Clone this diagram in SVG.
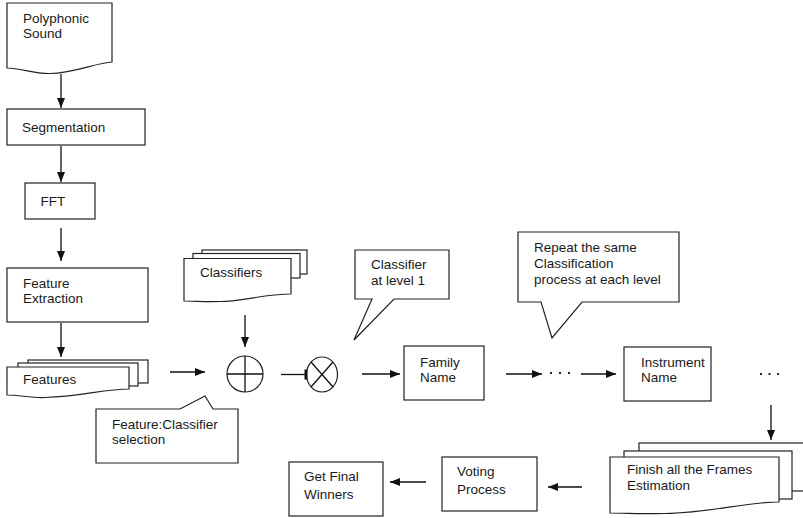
<svg xmlns="http://www.w3.org/2000/svg" width="803" height="518" viewBox="0 0 803 518">
<style>
.s{fill:#fff;stroke:#222;stroke-width:1.2}
.t{font-family:"Liberation Sans",Arial,sans-serif;font-size:13.5px;fill:#1a1a1a}
.c{stroke:#111;stroke-width:1.3;fill:none}
.h{fill:#111}
.d{fill:#222}
</style>
<defs>
<marker id="ah" markerWidth="10" markerHeight="10" viewBox="0 0 10 10" refX="10" refY="5" markerUnits="userSpaceOnUse" orient="auto">
<path d="M0,1 L10,5 L0,9 Z" fill="#111"/>
</marker>
</defs>
<rect width="803" height="518" fill="#fff"/>

<g id="polyphonic">
<path class="s" d="M7,3 H112 V62 C95,63 75,73 50,73.5 C35,74 20,68 7,68 Z"/>
<text class="t" x="23" y="23">Polyphonic</text>
<text class="t" x="23" y="38">Sound</text>
</g>

<g id="segmentation">
<rect class="s" x="7" y="109" width="138" height="36"/>
<text class="t" x="22" y="132">Segmentation</text>
</g>

<g id="fft">
<rect class="s" x="25" y="183" width="70" height="36"/>
<text class="t" x="40.5" y="206">FFT</text>
</g>

<g id="feature-extraction">
<rect class="s" x="7" y="268" width="141" height="54"/>
<text class="t" x="23" y="288">Feature</text>
<text class="t" x="23" y="303">Extraction</text>
</g>

<g id="features">
<rect class="s" x="28" y="360" width="120" height="23"/>
<rect class="s" x="18" y="363" width="120" height="23"/>
<path class="s" d="M7,367 H129 V389 C105,389 80,396.5 45,397.5 C30,398 20,395 7,395 Z"/>
<text class="t" x="23" y="384">Features</text>
</g>

<g id="classifiers">
<rect class="s" x="202" y="250" width="105" height="24"/>
<rect class="s" x="193" y="253.5" width="107" height="24.5"/>
<path class="s" d="M184,258.5 H291 V294 C265,294 245,301 220,301.5 C205,302 195,301 184,301 Z"/>
<text class="t" x="200" y="277">Classifiers</text>
</g>

<g id="plus">
<circle class="s" cx="245" cy="374" r="18"/>
<path class="c" d="M227,374 H263 M245,356 V392"/>
</g>

<g id="cross">
<ellipse class="s" cx="322" cy="374.5" rx="15.5" ry="17.5"/>
<path class="c" d="M311,362 L333,387 M333,362 L311,387"/>
</g>

<g id="feature-classifier-selection">
<path class="s" d="M96,409 H180 L205,396 L213,409 H238 V463 H96 Z"/>
<text class="t" x="112" y="429">Feature:Classifier</text>
<text class="t" x="112" y="444">selection</text>
</g>

<g id="classifier-level1">
<path class="s" d="M355,250 H449 V299 H394 L354,340 L372,299 H355 Z"/>
<text class="t" x="371" y="269">Classifier</text>
<text class="t" x="371" y="285">at level 1</text>
</g>

<g id="repeat-note">
<path class="s" d="M518,232 H679 V302 H582 L552,338 L541,302 H518 Z"/>
<text class="t" x="534" y="252">Repeat the same</text>
<text class="t" x="534" y="268">Classification</text>
<text class="t" x="534" y="284">process at each level</text>
</g>

<g id="family-name">
<rect class="s" x="404" y="346" width="80" height="54"/>
<text class="t" x="420" y="367">Family</text>
<text class="t" x="420" y="382">Name</text>
</g>

<g id="instrument-name">
<rect class="s" x="624" y="347" width="87" height="54"/>
<text class="t" x="641" y="367">Instrument</text>
<text class="t" x="641" y="382">Name</text>
</g>

<g id="dots-1">
<rect class="d" x="550" y="372" width="2" height="2"/>
<rect class="d" x="559" y="372" width="2" height="2"/>
<rect class="d" x="568" y="372" width="2" height="2"/>
</g>

<g id="dots-2">
<rect class="d" x="760" y="373" width="2" height="2"/>
<rect class="d" x="768.5" y="373" width="2" height="2"/>
<rect class="d" x="777" y="373" width="2" height="2"/>
</g>

<g id="finish-frames">
<rect class="s" x="639" y="443" width="170" height="48"/>
<rect class="s" x="624" y="451" width="168" height="48"/>
<path class="s" d="M610,457 H779 V502 C745,502 710,513 665,513.5 C645,514 625,513 610,513 Z"/>
<text class="t" x="627" y="474">Finish all the Frames</text>
<text class="t" x="627" y="490">Estimation</text>
</g>

<g id="voting">
<rect class="s" x="442" y="457" width="95" height="54"/>
<text class="t" x="457" y="476">Voting</text>
<text class="t" x="457" y="494">Process</text>
</g>

<g id="final-winners">
<rect class="s" x="289" y="462" width="94" height="54"/>
<text class="t" x="304" y="481">Get Final</text>
<text class="t" x="304" y="499">Winners</text>
</g>

<g id="connectors">
<path class="c" d="M61,74 V108" marker-end="url(#ah)"/>
<path class="c" d="M61,146 V182" marker-end="url(#ah)"/>
<path class="c" d="M61,228 V261" marker-end="url(#ah)"/>
<path class="c" d="M61,323 V357" marker-end="url(#ah)"/>
<path class="c" d="M170,372 H205" marker-end="url(#ah)"/>
<path class="c" d="M245,315 V347" marker-end="url(#ah)"/>
<path class="c" d="M281,374.5 H305"/>
<rect class="h" x="304.5" y="369.5" width="3" height="10"/>
<path class="c" d="M362,374 H400" marker-end="url(#ah)"/>
<path class="c" d="M506,374 H542" marker-end="url(#ah)"/>
<path class="c" d="M581,374 H616" marker-end="url(#ah)"/>
<path class="c" d="M771,405 V440" marker-end="url(#ah)"/>
<path class="c" d="M582,487 H548" marker-end="url(#ah)"/>
<path class="c" d="M426,482 H390" marker-end="url(#ah)"/>
</g>
</svg>
